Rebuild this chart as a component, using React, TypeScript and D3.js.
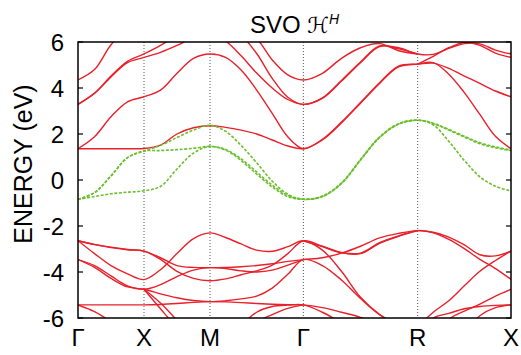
import React from "react";
import * as d3 from "d3";

// k-path: high-symmetry labels and their path distances
const kLabels = ["Γ", "X", "M", "Γ", "R", "X"];
const kTicks = [0, 0.5, 1.0, 1.7071, 2.5731, 3.2802];
const segDivs = [4, 4, 6, 6, 6];
const yTicks = [-6, -4, -2, 0, 2, 4, 6];

// [start sample index, energies (eV)]
const redBands: [number, number[]][] = [
  [0, [1.36, 1.36, 1.36, 1.36, 1.37, 1.52, 2.0, 2.27, 2.36, 2.29, 2.17, 2.0, 1.74, 1.48, 1.36, 1.74, 2.48, 3.34, 4.2, 4.92, 5.04, 5.1, 4.6, 3.8, 2.85, 1.9, 1.36]],
  [0, [1.36, 1.88, 2.75, 3.4, 3.62, 3.91, 4.64, 5.29, 5.48, 5.33, 4.78, 3.91, 2.9, 1.88, 1.36, 1.77, 2.52, 3.37, 4.23, 4.95, 5.04, 5.08, 4.85, 4.52, 4.2, 3.87, 3.62]],
  [0, [3.29, 3.76, 4.48, 5.1, 5.33, 5.55, 5.85, 6.2, 6.4, 6.05, 5.4, 4.65, 4.0, 3.5, 3.29, 3.55, 4.3, 5.1, 5.8, 5.75, 5.48, 5.46, 5.72, 5.93, 5.92, 5.65, 5.48]],
  [0, [3.29, 3.78, 4.52, 5.16, 5.48, 5.85, 6.3, 6.7, 7.0, 6.75, 6.3, 5.5, 4.42, 3.6, 3.29, 3.57, 4.33, 5.13, 5.83, 5.7, 5.48]],
  [0, [4.35, 4.8, 5.88, 6.6, 7.0, 7.2, 7.3, 7.3, 7.2, 7.0, 6.6, 6.15, 5.22, 4.57, 4.35, 4.64, 5.29, 5.75, 5.93, 5.62, 5.48]],
  [20, [5.04, 5.38, 5.75, 5.98, 5.85, 5.52, 5.33]],
  [0, [-2.64, -2.8, -2.92, -3.02, -3.09, -3.38, -3.72, -3.8, -3.81, -3.8, -3.77, -3.72, -3.64, -3.54, -3.46, -3.38, -3.18, -2.88, -2.52, -2.32, -2.2, -2.27, -2.48, -2.82, -3.25, -3.3, -3.09]],
  [0, [-2.64, -2.81, -2.94, -3.03, -3.09, -3.45, -3.97, -4.28, -4.38, -4.3, -4.12, -3.95, -3.7, -3.2, -2.64, -2.88, -3.15, -3.18, -2.72, -2.43, -2.2, -2.3, -2.58, -2.98, -3.45, -3.85, -4.32]],
  [0, [-2.64, -3.2, -3.72, -4.08, -4.33, -3.9, -3.2, -2.55, -2.3, -2.5, -2.78, -3.05, -3.1, -2.9, -2.64, -3.05, -3.97, -5.1, -5.85, -6.3, -6.5]],
  [0, [-3.46, -3.72, -4.17, -4.6, -4.75, -4.55, -4.2, -3.92, -3.81, -3.85, -3.95, -4.0, -3.92, -3.7, -3.46]],
  [0, [-3.46, -3.8, -4.28, -4.65, -4.75, -4.95, -5.12, -5.24, -5.29, -5.25, -5.17, -5.05, -4.7, -4.1, -3.46, -3.72, -4.35, -5.15, -5.85, -6.3, -6.5]],
  [0, [-5.43, -5.43, -5.43, -5.43, -5.43, -5.41, -5.37, -5.32, -5.29, -5.3, -5.33, -5.37, -5.4, -5.42, -5.43, -5.55, -5.75, -5.97, -6.3, -6.6]],
  [0, [-5.43, -5.72, -6.15, -6.6, -7.0]],
  [4, [-4.75, -5.6, -6.4, -7.0, -7.4]],
  [4, [-4.75, -5.35, -6.1, -6.8, -7.3]],
  [8, [-8.0, -7.3, -6.35, -5.75, -5.5, -5.44, -5.43, -5.75, -6.2, -6.6]],
  [8, [-8.2, -7.8, -7.0, -6.2, -5.85, -5.58, -5.43]],
  [14, [-2.64, -2.9, -3.17, -3.2, -2.75, -2.45, -2.2]],
  [20, [-6.4, -5.75, -5.25, -4.6, -3.97, -3.5, -3.09]],
  [20, [-6.8, -6.0, -5.8, -5.6, -5.5, -5.45, -5.43]],
  [20, [-7.5, -6.9, -6.05, -5.7, -5.4, -5.05, -4.75]],
  [22, [-7.0, -6.6, -5.9, -5.55, -5.43]],
];

const greenBands: [number, number[]][] = [
  [0, [-0.84, -0.72, -0.6, -0.53, -0.47, -0.28, 0.48, 1.17, 1.46, 1.3, 0.85, 0.26, -0.3, -0.72, -0.84, -0.72, -0.15, 0.87, 1.85, 2.43, 2.6, 2.4, 1.68, 0.85, 0.14, -0.27, -0.47]],
  [0, [-0.84, -0.55, 0.18, 0.97, 1.26, 1.28, 1.32, 1.38, 1.46, 1.33, 0.92, 0.35, -0.22, -0.67, -0.84, -0.72, -0.15, 0.87, 1.85, 2.43, 2.6, 2.47, 2.17, 1.87, 1.58, 1.4, 1.28]],
  [0, [-0.84, -0.55, 0.18, 0.97, 1.26, 1.5, 1.85, 2.17, 2.38, 2.12, 1.5, 0.75, -0.05, -0.62, -0.84, -0.7, -0.13, 0.89, 1.87, 2.45, 2.6, 2.45, 2.2, 1.9, 1.62, 1.44, 1.3]],
];

const W = 521;
const H = 355;
const box = { left: 78, right: 511, top: 42, bottom: 318 };
const FONT = "'Liberation Sans', Arial, Helvetica, sans-serif";

export default function App() {
  const kSamples: number[] = [];
  segDivs.forEach((n, i) => {
    for (let j = i === 0 ? 0 : 1; j <= n; j++) {
      kSamples.push(kTicks[i] + ((kTicks[i + 1] - kTicks[i]) * j) / n);
    }
  });
  const x = d3.scaleLinear().domain([0, kTicks[kTicks.length - 1]]).range([box.left, box.right]);
  const y = d3.scaleLinear().domain([-6, 6]).range([box.bottom, box.top]);
  const line = d3
    .line<[number, number]>()
    .x((d) => x(d[0]))
    .y((d) => y(d[1]))
    .curve(d3.curveCatmullRom.alpha(0.5));
  const bandPath = (b: [number, number[]]) =>
    line(b[1].map((v, i) => [kSamples[b[0] + i], v] as [number, number])) || "";

  return (
    <svg width={W} height={H} style={{ position: "absolute", left: 0, top: 0, background: "#fff" }} fontFamily={FONT}>
      <defs>
        <clipPath id="plotclip">
          <rect x={box.left} y={box.top} width={box.right - box.left} height={box.bottom - box.top} />
        </clipPath>
      </defs>
      <rect x={0} y={0} width={W} height={H} fill="#fff" />
      {kTicks.slice(1, -1).map((k, i) => (
        <line key={"g" + i} x1={x(k)} x2={x(k)} y1={box.top} y2={box.bottom} stroke="#555" strokeWidth={1} strokeDasharray="1,2" />
      ))}
      <g clipPath="url(#plotclip)" fill="none">
        {redBands.map((b, i) => (
          <path key={"r" + i} d={bandPath(b)} stroke="#e8202a" strokeWidth={1.4} />
        ))}
        {greenBands.map((b, i) => (
          <path key={"gr" + i} d={bandPath(b)} stroke="#6abf2e" strokeWidth={1.6} strokeDasharray="3,1.6" />
        ))}
      </g>
      <rect x={box.left} y={box.top} width={box.right - box.left} height={box.bottom - box.top} fill="none" stroke="#000" strokeWidth={1.5} />
      {yTicks.map((t) => (
        <g key={"yt" + t}>
          <line x1={box.left} x2={box.left + 5} y1={y(t)} y2={y(t)} stroke="#000" strokeWidth={1.2} />
          <line x1={box.right - 5} x2={box.right} y1={y(t)} y2={y(t)} stroke="#000" strokeWidth={1.2} />
          <text x={64} y={y(t)} dy="0.36em" textAnchor="end" fontSize={24} fill="#000">
            {String(t)}
          </text>
        </g>
      ))}
      {kTicks.map((k, i) => (
        <text key={"kl" + i} x={x(k)} y={346} textAnchor="middle" fontSize={24} fill="#000">
          {kLabels[i]}
        </text>
      ))}
      <text transform={`translate(32,164) rotate(-90)`} textAnchor="middle" fontSize={25} fill="#000">
        ENERGY (eV)
      </text>
      <text x={(box.left + box.right) / 2} y={33} textAnchor="middle" fontSize={24} fill="#000">
        SVO <tspan fontFamily="'DejaVu Sans', sans-serif" fontSize={22}>ℋ</tspan>
        <tspan fontSize={14} dy={-9} fontStyle="italic">H</tspan>
      </text>
    </svg>
  );
}
